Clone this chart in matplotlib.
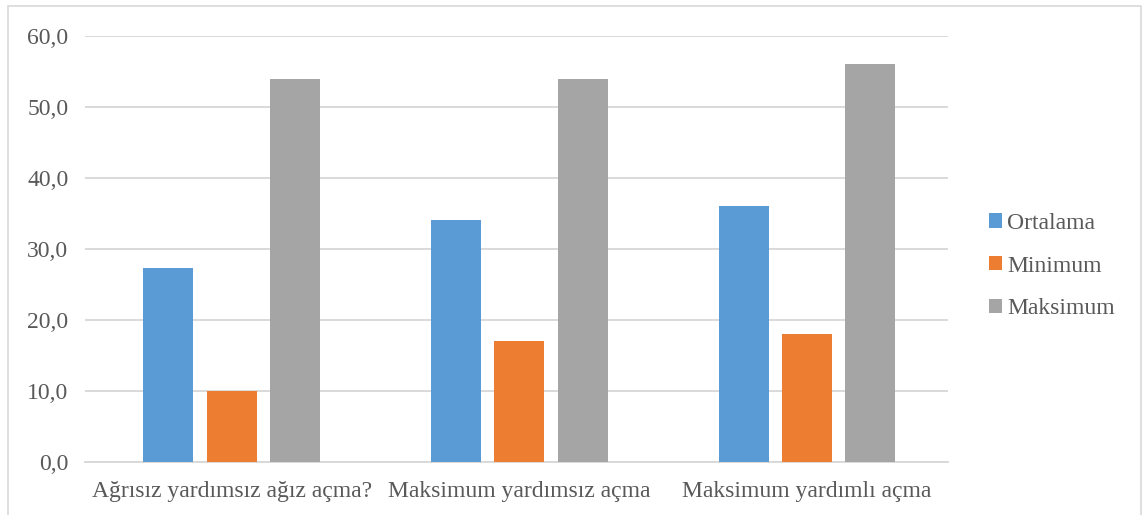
import matplotlib.pyplot as plt
import numpy as np
from matplotlib.patches import Rectangle
from matplotlib.ticker import FuncFormatter

categories = ["Ağrısız yardımsız ağız açma?", "Maksimum yardımsız açma", "Maksimum yardımlı açma"]
series_names = ["Ortalama", "Minimum", "Maksimum"]
ortalama = [27.3, 34.1, 36.1]
minimum = [10.0, 17.0, 18.0]
maksimum = [54.0, 54.0, 56.0]
colors = ["#5b9bd5", "#ed7d31", "#a5a5a5"]

plt.rcParams['font.family'] = ['Liberation Serif', 'DejaVu Serif']
text_col = "#595959"
grid_col = "#d9d9d9"

fig = plt.figure(figsize=(11.47, 5.15), dpi=100)
# outer chart border
fig.patches.append(Rectangle((8 / 1147, -0.05), 1133 / 1147, 1.05 - 6 / 515,
                             transform=fig.transFigure, fill=False,
                             edgecolor=grid_col, linewidth=1.2))

ax = fig.add_axes([85 / 1147, 1 - 462 / 515, 863 / 1147, 426 / 515])
x = np.arange(len(categories))
step = 0.22
width = 0.174
for i, (vals, name) in enumerate(zip([ortalama, minimum, maksimum], series_names)):
    ax.bar(x + (i - 1) * step, vals, width, color=colors[i], label=name, zorder=3)

ax.set_xlim(-0.51, 2.49)
ax.set_ylim(0, 60)
ax.set_yticks(np.arange(0, 61, 10))
ax.yaxis.set_major_formatter(FuncFormatter(lambda v, p: f"{v:.1f}".replace(".", ",")))
ax.set_xticks(x)
ax.set_xticklabels(categories)
ax.grid(axis='y', color=grid_col, linewidth=1.4, zorder=0)
for s in ["top", "right", "left"]:
    ax.spines[s].set_visible(False)
ax.spines["bottom"].set_color(grid_col)
ax.spines["bottom"].set_linewidth(1.4)
ax.tick_params(axis='both', length=0, labelsize=17, colors=text_col)
ax.tick_params(axis='y', pad=12)
ax.tick_params(axis='x', pad=14)

leg = fig.legend(loc='center left', bbox_to_anchor=(968 / 1147, 1 - 266 / 515),
                 frameon=False, fontsize=17, handlelength=0.55, handleheight=0.55,
                 handletextpad=0.2, labelspacing=0.92)
for t in leg.get_texts():
    t.set_color(text_col)

fig.savefig("out.png", dpi=100)
